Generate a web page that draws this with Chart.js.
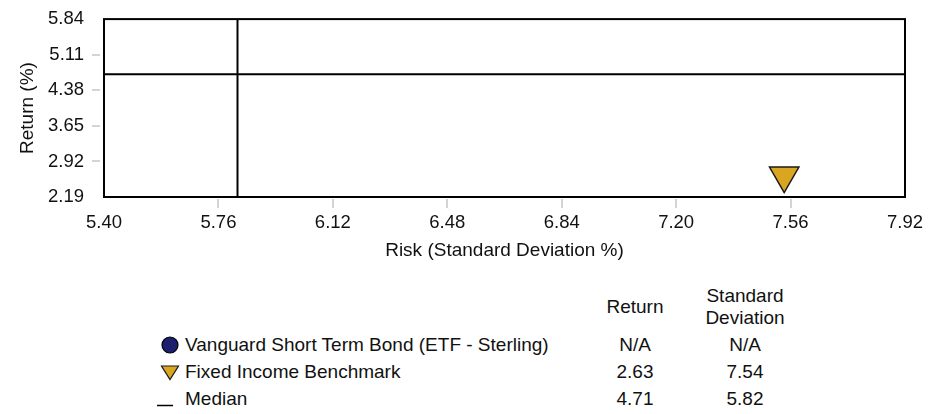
<!DOCTYPE html>
<html lang="en">
<head>
<meta charset="UTF-8">
<title>Risk vs Return</title>
<script src="https://cdn.jsdelivr.net/npm/chart.js"></script>
<style>
  body { margin: 0; background: #fff; font-family: "Liberation Sans", Arial, sans-serif; color: #111; }
  #wrap { position: relative; width: 942px; height: 414px; overflow: hidden; }
  #riskChart { position: absolute; left: 0; top: 0; }
  .txt { position: absolute; font-size: 19px; line-height: 20px; white-space: nowrap; }
  .num { width: 120px; text-align: center; }
  .icon { position: absolute; }
</style>
</head>
<body>
<div id="wrap">
  <canvas id="riskChart" width="942" height="270"></canvas>
  <div id="legend"></div>
</div>
<script>
// axis ticks
const xTicks = [5.40, 5.76, 6.12, 6.48, 6.84, 7.20, 7.56, 7.92];
const yTicks = [2.19, 2.92, 3.65, 4.38, 5.11, 5.84];

// series: fund, benchmark, median (null = N/A)
const seriesNames = ['Vanguard Short Term Bond (ETF - Sterling)', 'Fixed Income Benchmark', 'Median'];
const returns = [null, 2.63, 4.71];
const stdDevs = [null, 7.54, 5.82];

const FONT = '"Liberation Sans", Arial, sans-serif';
const INK = '#111';
const GOLD = '#DAA520';
const NAVY = '#1c1f6e';

const xMin = xTicks[0], xMax = xTicks[xTicks.length - 1];
const yMin = yTicks[0], yMax = yTicks[yTicks.length - 1];

// plot frame
const framePlugin = {
  id: 'frame',
  beforeDatasetsDraw(chart) {
    const a = chart.chartArea, ctx = chart.ctx;
    ctx.save();
    ctx.strokeStyle = '#000';
    ctx.lineWidth = 2;
    ctx.strokeRect(a.left, a.top, a.right - a.left, a.bottom - a.top);
    ctx.restore();
  }
};

const hideEnds = (list) => (ctx) =>
  (ctx.index === 0 || ctx.index === list.length - 1) ? 'rgba(0,0,0,0)' : '#d4d4d4';

new Chart(document.getElementById('riskChart'), {
  type: 'scatter',
  data: {
    datasets: [
      {
        label: seriesNames[1],
        data: [{ x: stdDevs[1], y: returns[1] }],
        pointStyle: 'triangle',
        rotation: 180,
        radius: 17,
        backgroundColor: GOLD,
        borderColor: '#1a1a1a',
        borderWidth: 1.5
      },
      {
        label: seriesNames[2],
        data: [{ x: stdDevs[2], y: yMin }, { x: stdDevs[2], y: yMax }],
        showLine: true, pointRadius: 0, borderColor: '#000', borderWidth: 2
      },
      {
        label: seriesNames[2],
        data: [{ x: xMin, y: returns[2] }, { x: xMax, y: returns[2] }],
        showLine: true, pointRadius: 0, borderColor: '#000', borderWidth: 2
      }
    ]
  },
  options: {
    responsive: false,
    animation: false,
    events: [],
    layout: { padding: { left: 0, right: 37, top: 18, bottom: 0 } },
    plugins: { legend: { display: false }, tooltip: { enabled: false } },
    scales: {
      x: {
        type: 'linear', position: 'bottom', min: xMin, max: xMax,
        afterBuildTicks: s => { s.ticks = xTicks.map(v => ({ value: v })); },
        afterFit: s => { s.height = 73; },
        border: { display: false },
        grid: {
          drawOnChartArea: false, color: hideEnds(xTicks), lineWidth: 2,
          tickLength: 11, tickBorderDash: [9, 2], tickBorderDashOffset: 9
        },
        ticks: {
          autoSkip: false, maxRotation: 0, padding: 4, color: INK,
          font: { family: FONT, size: 18.5 },
          callback: v => Number(v).toFixed(2)
        },
        title: {
          display: true, text: 'Risk (Standard Deviation %)', color: INK,
          font: { family: FONT, size: 19 }, padding: { top: 0, bottom: 8 }
        }
      },
      y: {
        type: 'linear', min: yMin, max: yMax,
        afterBuildTicks: s => { s.ticks = yTicks.map(v => ({ value: v })); },
        afterFit: s => { s.width = 104; },
        border: { display: false },
        grid: {
          drawOnChartArea: false, color: hideEnds(yTicks), lineWidth: 2,
          tickLength: 12, tickBorderDash: [8, 4]
        },
        ticks: {
          autoSkip: false, padding: 8, color: INK,
          font: { family: FONT, size: 18.5 },
          callback: v => Number(v).toFixed(2)
        },
        title: {
          display: true, text: 'Return (%)', color: INK,
          font: { family: FONT, size: 19 }, padding: { top: 16, bottom: 0 }
        }
      }
    }
  },
  plugins: [framePlugin]
});

// legend table below the plot
const legend = document.getElementById('legend');
const rowMid = [345, 372, 399];
const colReturn = 635, colStd = 745;

function addText(text, left, mid, cls) {
  const d = document.createElement('div');
  d.className = 'txt ' + (cls || '');
  d.style.left = left + 'px';
  d.style.top = (mid - 10) + 'px';
  d.textContent = text;
  legend.appendChild(d);
  return d;
}

addText('Return', colReturn - 60, 307, 'num');
addText('Standard', colStd - 60, 296, 'num');
addText('Deviation', colStd - 60, 318, 'num');

const icons = [
  `<svg width="20" height="20"><circle cx="10" cy="10" r="8" fill="${NAVY}" stroke="#000" stroke-width="1.2"/></svg>`,
  `<svg width="20" height="20"><polygon points="1.5,4 18.5,4 10,17.5" fill="${GOLD}" stroke="#1a1a1a" stroke-width="1.2"/></svg>`,
  `<svg width="20" height="20"><line x1="0" y1="16.5" x2="16" y2="16.5" stroke="#000" stroke-width="1.5"/></svg>`
];

seriesNames.forEach((name, i) => {
  const ic = document.createElement('div');
  ic.className = 'icon';
  ic.style.left = (i === 2 ? 157 : 160) + 'px';
  ic.style.top = (rowMid[i] - 10) + 'px';
  ic.innerHTML = icons[i];
  legend.appendChild(ic);
  addText(name, 185, rowMid[i]);
  addText(returns[i] === null ? 'N/A' : returns[i].toFixed(2), colReturn - 60, rowMid[i], 'num');
  addText(stdDevs[i] === null ? 'N/A' : stdDevs[i].toFixed(2), colStd - 60, rowMid[i], 'num');
});
</script>
</body>
</html>
